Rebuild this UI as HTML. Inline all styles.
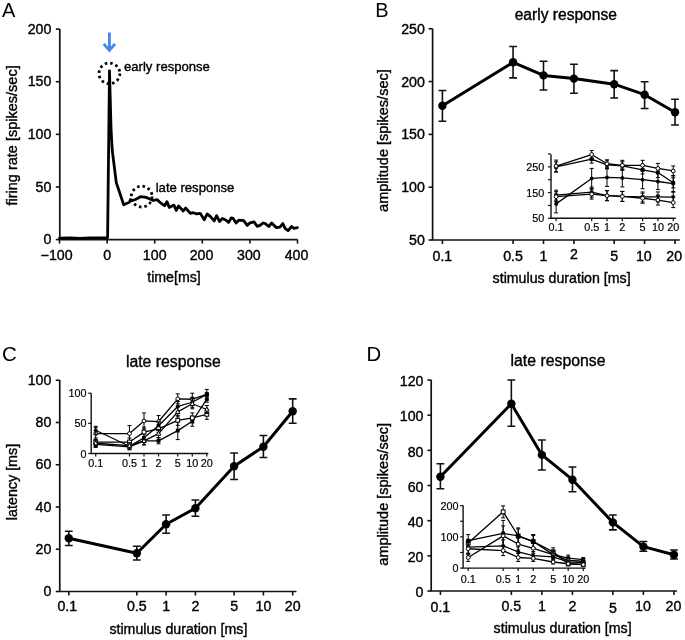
<!DOCTYPE html>
<html><head><meta charset="utf-8"><style>html,body{margin:0;padding:0;background:#fff;width:685px;height:640px;overflow:hidden} text{stroke:#000;stroke-width:0.38px} text.pl{stroke:none} text.sm{stroke-width:0.2px}</style></head>
<body>
<svg width="685" height="640" viewBox="0 0 685 640" style="display:block;will-change:transform">
<g font-family='"Liberation Sans", sans-serif' fill="#000">
<text x="2.00" y="17.00" font-size="20" text-anchor="start" class="pl">A</text>
<path d="M59.80,29.00 V239.60 H297.50" fill="none" stroke="#111" stroke-width="1.7"/>
<line x1="55.80" y1="239.60" x2="59.80" y2="239.60" stroke="#111" stroke-width="1.6"/>
<text x="51.30" y="244.20" font-size="14.2" text-anchor="end" >0</text>
<line x1="55.80" y1="186.97" x2="59.80" y2="186.97" stroke="#111" stroke-width="1.6"/>
<text x="51.30" y="191.57" font-size="14.2" text-anchor="end" >50</text>
<line x1="55.80" y1="134.35" x2="59.80" y2="134.35" stroke="#111" stroke-width="1.6"/>
<text x="51.30" y="138.95" font-size="14.2" text-anchor="end" >100</text>
<line x1="55.80" y1="81.72" x2="59.80" y2="81.72" stroke="#111" stroke-width="1.6"/>
<text x="51.30" y="86.32" font-size="14.2" text-anchor="end" >150</text>
<line x1="55.80" y1="29.10" x2="59.80" y2="29.10" stroke="#111" stroke-width="1.6"/>
<text x="51.30" y="33.70" font-size="14.2" text-anchor="end" >200</text>
<line x1="59.50" y1="239.60" x2="59.50" y2="243.60" stroke="#111" stroke-width="1.6"/>
<line x1="107.10" y1="239.60" x2="107.10" y2="243.60" stroke="#111" stroke-width="1.6"/>
<text x="107.10" y="259.80" font-size="14.2" text-anchor="middle" >0</text>
<line x1="154.70" y1="239.60" x2="154.70" y2="243.60" stroke="#111" stroke-width="1.6"/>
<text x="154.70" y="259.80" font-size="14.2" text-anchor="middle" >100</text>
<line x1="202.30" y1="239.60" x2="202.30" y2="243.60" stroke="#111" stroke-width="1.6"/>
<text x="201.50" y="259.80" font-size="14.2" text-anchor="middle" >200</text>
<line x1="249.90" y1="239.60" x2="249.90" y2="243.60" stroke="#111" stroke-width="1.6"/>
<text x="248.90" y="259.80" font-size="14.2" text-anchor="middle" >300</text>
<line x1="297.50" y1="239.60" x2="297.50" y2="243.60" stroke="#111" stroke-width="1.6"/>
<text x="296.50" y="259.80" font-size="14.2" text-anchor="middle" >400</text>
<text x="56.60" y="259.80" font-size="14.2" text-anchor="middle" >−100</text>
<text x="174.00" y="281.60" font-size="14.2" text-anchor="middle" >time[ms]</text>
<text transform="translate(16.7,135.4) rotate(-90)" font-size="14.5" text-anchor="middle">firing rate [spikes/sec]</text>
<polyline points="59.50,238.20 70.00,238.00 80.00,238.30 90.00,237.80 100.00,237.90 107.60,237.60 109.50,70.80 111.00,128.00 112.20,150.00 116.30,182.60 123.70,204.80 127.00,203.30 129.40,202.30 130.50,199.50 131.90,200.80 136.00,199.30 140.90,196.60 146.00,197.40 150.00,199.00 153.00,200.50 157.00,199.60 160.50,202.80 164.60,205.70 166.90,201.60 169.30,207.40 173.90,205.10 176.30,210.40 178.60,205.90 183.30,211.00 185.60,208.00 190.30,213.30 193.20,212.70 196.70,213.90 200.20,213.30 204.30,219.70 207.20,213.90 210.70,216.80 214.20,220.90 216.60,215.60 219.50,221.50 222.40,218.50 225.30,219.70 228.50,222.40 231.40,217.80 233.20,218.40 236.10,223.00 239.00,220.10 243.70,220.70 247.20,225.40 250.10,222.80 254.20,221.90 257.10,226.30 260.00,225.40 263.00,223.00 265.30,223.60 268.80,226.50 271.70,223.00 276.40,227.70 279.90,227.10 282.80,223.60 285.10,228.30 288.10,230.60 291.60,226.50 293.90,228.30 297.40,227.70" fill="none" stroke="#000" stroke-width="2.8" stroke-linejoin="round" stroke-linecap="round" stroke-linejoin="miter" stroke-miterlimit="3"/>
<circle cx="109.4" cy="73.4" r="10.4" fill="none" stroke="#000" stroke-width="2.8" stroke-dasharray="2.5 3.0"/>
<circle cx="141.7" cy="196.6" r="10.4" fill="none" stroke="#000" stroke-width="2.8" stroke-dasharray="2.5 3.0"/>
<text x="124.00" y="71.00" font-size="13.1" text-anchor="start" >early response</text>
<text x="155.70" y="191.60" font-size="13.1" text-anchor="start" >late response</text>
<path d="M109.4,32.4 V50 M103.8,43.8 L109.4,50.4 L115.0,43.8" fill="none" stroke="#4285ec" stroke-width="2.8" stroke-linecap="butt" stroke-linejoin="miter"/>
<text x="375.30" y="16.50" font-size="20" text-anchor="start" class="pl">B</text>
<path d="M432.60,28.75 V240.00 H679.80" fill="none" stroke="#111" stroke-width="1.7"/>
<line x1="428.60" y1="240.00" x2="432.60" y2="240.00" stroke="#111" stroke-width="1.6"/>
<text x="424.80" y="245.00" font-size="14.2" text-anchor="end" >50</text>
<line x1="428.60" y1="187.19" x2="432.60" y2="187.19" stroke="#111" stroke-width="1.6"/>
<text x="424.80" y="192.19" font-size="14.2" text-anchor="end" >100</text>
<line x1="428.60" y1="134.38" x2="432.60" y2="134.38" stroke="#111" stroke-width="1.6"/>
<text x="424.80" y="139.38" font-size="14.2" text-anchor="end" >150</text>
<line x1="428.60" y1="81.56" x2="432.60" y2="81.56" stroke="#111" stroke-width="1.6"/>
<text x="424.80" y="86.56" font-size="14.2" text-anchor="end" >200</text>
<line x1="428.60" y1="28.75" x2="432.60" y2="28.75" stroke="#111" stroke-width="1.6"/>
<text x="424.80" y="33.75" font-size="14.2" text-anchor="end" >250</text>
<line x1="442.40" y1="240.00" x2="442.40" y2="244.00" stroke="#111" stroke-width="1.6"/>
<text x="442.40" y="260.60" font-size="14.2" text-anchor="middle" >0.1</text>
<line x1="513.07" y1="240.00" x2="513.07" y2="244.00" stroke="#111" stroke-width="1.6"/>
<text x="513.07" y="260.60" font-size="14.2" text-anchor="middle" >0.5</text>
<line x1="543.50" y1="240.00" x2="543.50" y2="244.00" stroke="#111" stroke-width="1.6"/>
<text x="543.50" y="260.60" font-size="14.2" text-anchor="middle" >1</text>
<line x1="573.93" y1="240.00" x2="573.93" y2="244.00" stroke="#111" stroke-width="1.6"/>
<text x="573.93" y="259.40" font-size="14.2" text-anchor="middle" >2</text>
<line x1="614.17" y1="240.00" x2="614.17" y2="244.00" stroke="#111" stroke-width="1.6"/>
<text x="614.17" y="260.60" font-size="14.2" text-anchor="middle" >5</text>
<line x1="644.60" y1="240.00" x2="644.60" y2="244.00" stroke="#111" stroke-width="1.6"/>
<text x="643.80" y="260.60" font-size="14.2" text-anchor="middle" >10</text>
<line x1="675.03" y1="240.00" x2="675.03" y2="244.00" stroke="#111" stroke-width="1.6"/>
<text x="674.23" y="260.60" font-size="14.2" text-anchor="middle" >20</text>
<text x="561.60" y="282.60" font-size="14.2" text-anchor="middle" >stimulus duration [ms]</text>
<text x="565.80" y="19.60" font-size="15.6" text-anchor="middle" >early response</text>
<text transform="translate(387.9,140.6) rotate(-90)" font-size="14.5" text-anchor="middle">amplitude [spikes/sec]</text>
<path d="M442.40,90.50 V121.25 M438.50,90.50 H446.30 M438.50,121.25 H446.30" stroke="#111" stroke-width="1.6" fill="none"/>
<path d="M513.07,46.50 V77.90 M509.17,46.50 H516.97 M509.17,77.90 H516.97" stroke="#111" stroke-width="1.6" fill="none"/>
<path d="M543.50,61.30 V90.00 M539.60,61.30 H547.40 M539.60,90.00 H547.40" stroke="#111" stroke-width="1.6" fill="none"/>
<path d="M573.93,64.30 V93.20 M570.03,64.30 H577.83 M570.03,93.20 H577.83" stroke="#111" stroke-width="1.6" fill="none"/>
<path d="M614.17,70.60 V98.00 M610.27,70.60 H618.07 M610.27,98.00 H618.07" stroke="#111" stroke-width="1.6" fill="none"/>
<path d="M644.60,81.70 V108.50 M640.70,81.70 H648.50 M640.70,108.50 H648.50" stroke="#111" stroke-width="1.6" fill="none"/>
<path d="M675.03,99.30 V125.00 M671.13,99.30 H678.93 M671.13,125.00 H678.93" stroke="#111" stroke-width="1.6" fill="none"/>
<polyline points="442.40,105.75 513.07,62.30 543.50,75.40 573.93,78.60 614.17,84.20 644.60,94.70 675.03,112.20" fill="none" stroke="#000" stroke-width="3.0" stroke-linejoin="round" stroke-linecap="round" stroke-linejoin="miter"/>
<circle cx="442.40" cy="105.75" r="4.2" fill="#000"/>
<circle cx="513.07" cy="62.30" r="4.2" fill="#000"/>
<circle cx="543.50" cy="75.40" r="4.2" fill="#000"/>
<circle cx="573.93" cy="78.60" r="4.2" fill="#000"/>
<circle cx="614.17" cy="84.20" r="4.2" fill="#000"/>
<circle cx="644.60" cy="94.70" r="4.2" fill="#000"/>
<circle cx="675.03" cy="112.20" r="4.2" fill="#000"/>
<text x="2.00" y="360.60" font-size="20.5" text-anchor="start" class="pl">C</text>
<path d="M59.75,380.00 V591.50 H296.50" fill="none" stroke="#111" stroke-width="1.7"/>
<line x1="55.75" y1="591.50" x2="59.75" y2="591.50" stroke="#111" stroke-width="1.6"/>
<text x="51.30" y="596.10" font-size="14.2" text-anchor="end" >0</text>
<line x1="55.75" y1="549.25" x2="59.75" y2="549.25" stroke="#111" stroke-width="1.6"/>
<text x="51.30" y="553.85" font-size="14.2" text-anchor="end" >20</text>
<line x1="55.75" y1="507.00" x2="59.75" y2="507.00" stroke="#111" stroke-width="1.6"/>
<text x="51.30" y="511.60" font-size="14.2" text-anchor="end" >40</text>
<line x1="55.75" y1="464.75" x2="59.75" y2="464.75" stroke="#111" stroke-width="1.6"/>
<text x="51.30" y="469.35" font-size="14.2" text-anchor="end" >60</text>
<line x1="55.75" y1="422.50" x2="59.75" y2="422.50" stroke="#111" stroke-width="1.6"/>
<text x="51.30" y="427.10" font-size="14.2" text-anchor="end" >80</text>
<line x1="55.75" y1="380.25" x2="59.75" y2="380.25" stroke="#111" stroke-width="1.6"/>
<text x="51.30" y="384.85" font-size="14.2" text-anchor="end" >100</text>
<line x1="68.80" y1="591.50" x2="68.80" y2="595.50" stroke="#111" stroke-width="1.6"/>
<text x="67.30" y="611.40" font-size="14.2" text-anchor="middle" >0.1</text>
<line x1="136.81" y1="591.50" x2="136.81" y2="595.50" stroke="#111" stroke-width="1.6"/>
<text x="136.81" y="611.40" font-size="14.2" text-anchor="middle" >0.5</text>
<line x1="166.10" y1="591.50" x2="166.10" y2="595.50" stroke="#111" stroke-width="1.6"/>
<text x="166.10" y="611.40" font-size="14.2" text-anchor="middle" >1</text>
<line x1="195.39" y1="591.50" x2="195.39" y2="595.50" stroke="#111" stroke-width="1.6"/>
<text x="195.39" y="611.40" font-size="14.2" text-anchor="middle" >2</text>
<line x1="234.11" y1="591.50" x2="234.11" y2="595.50" stroke="#111" stroke-width="1.6"/>
<text x="234.11" y="611.40" font-size="14.2" text-anchor="middle" >5</text>
<line x1="263.40" y1="591.50" x2="263.40" y2="595.50" stroke="#111" stroke-width="1.6"/>
<text x="263.40" y="611.40" font-size="14.2" text-anchor="middle" >10</text>
<line x1="292.69" y1="591.50" x2="292.69" y2="595.50" stroke="#111" stroke-width="1.6"/>
<text x="292.69" y="611.40" font-size="14.2" text-anchor="middle" >20</text>
<text x="178.40" y="634.20" font-size="14.2" text-anchor="middle" >stimulus duration [ms]</text>
<text x="173.30" y="366.70" font-size="15.8" text-anchor="middle" >late response</text>
<text transform="translate(16.9,482) rotate(-90)" font-size="14.3" text-anchor="middle">latency [ms]</text>
<path d="M68.80,531.25 V545.50 M64.90,531.25 H72.70 M64.90,545.50 H72.70" stroke="#111" stroke-width="1.6" fill="none"/>
<path d="M136.81,546.25 V560.00 M132.91,546.25 H140.71 M132.91,560.00 H140.71" stroke="#111" stroke-width="1.6" fill="none"/>
<path d="M166.10,515.00 V533.25 M162.20,515.00 H170.00 M162.20,533.25 H170.00" stroke="#111" stroke-width="1.6" fill="none"/>
<path d="M195.39,500.00 V516.25 M191.49,500.00 H199.29 M191.49,516.25 H199.29" stroke="#111" stroke-width="1.6" fill="none"/>
<path d="M234.11,453.00 V479.50 M230.21,453.00 H238.01 M230.21,479.50 H238.01" stroke="#111" stroke-width="1.6" fill="none"/>
<path d="M263.40,435.50 V457.50 M259.50,435.50 H267.30 M259.50,457.50 H267.30" stroke="#111" stroke-width="1.6" fill="none"/>
<path d="M292.69,398.90 V423.25 M288.79,398.90 H296.59 M288.79,423.25 H296.59" stroke="#111" stroke-width="1.6" fill="none"/>
<polyline points="68.80,538.25 136.81,553.25 166.10,524.25 195.39,508.25 234.11,466.25 263.40,446.75 292.69,411.25" fill="none" stroke="#000" stroke-width="3.0" stroke-linejoin="round" stroke-linecap="round" stroke-linejoin="miter"/>
<circle cx="68.80" cy="538.25" r="4.2" fill="#000"/>
<circle cx="136.81" cy="553.25" r="4.2" fill="#000"/>
<circle cx="166.10" cy="524.25" r="4.2" fill="#000"/>
<circle cx="195.39" cy="508.25" r="4.2" fill="#000"/>
<circle cx="234.11" cy="466.25" r="4.2" fill="#000"/>
<circle cx="263.40" cy="446.75" r="4.2" fill="#000"/>
<circle cx="292.69" cy="411.25" r="4.2" fill="#000"/>
<text x="366.50" y="360.60" font-size="20.3" text-anchor="start" class="pl">D</text>
<path d="M431.20,380.00 V591.00 H677.00" fill="none" stroke="#111" stroke-width="1.7"/>
<line x1="427.40" y1="591.00" x2="431.20" y2="591.00" stroke="#111" stroke-width="1.6"/>
<text x="423.50" y="597.20" font-size="14.2" text-anchor="end" >0</text>
<line x1="427.40" y1="555.83" x2="431.20" y2="555.83" stroke="#111" stroke-width="1.6"/>
<text x="423.50" y="562.03" font-size="14.2" text-anchor="end" >20</text>
<line x1="427.40" y1="520.67" x2="431.20" y2="520.67" stroke="#111" stroke-width="1.6"/>
<text x="423.50" y="526.87" font-size="14.2" text-anchor="end" >40</text>
<line x1="427.40" y1="485.50" x2="431.20" y2="485.50" stroke="#111" stroke-width="1.6"/>
<text x="423.50" y="491.70" font-size="14.2" text-anchor="end" >60</text>
<line x1="427.40" y1="450.34" x2="431.20" y2="450.34" stroke="#111" stroke-width="1.6"/>
<text x="423.50" y="456.54" font-size="14.2" text-anchor="end" >80</text>
<line x1="427.40" y1="415.17" x2="431.20" y2="415.17" stroke="#111" stroke-width="1.6"/>
<text x="423.50" y="421.37" font-size="14.2" text-anchor="end" >100</text>
<line x1="427.40" y1="380.00" x2="431.20" y2="380.00" stroke="#111" stroke-width="1.6"/>
<text x="423.50" y="386.20" font-size="14.2" text-anchor="end" >120</text>
<line x1="440.40" y1="591.00" x2="440.40" y2="595.00" stroke="#111" stroke-width="1.6"/>
<text x="440.40" y="611.90" font-size="14.2" text-anchor="middle" >0.1</text>
<line x1="511.35" y1="591.00" x2="511.35" y2="595.00" stroke="#111" stroke-width="1.6"/>
<text x="511.35" y="610.90" font-size="14.2" text-anchor="middle" >0.5</text>
<line x1="541.90" y1="591.00" x2="541.90" y2="595.00" stroke="#111" stroke-width="1.6"/>
<text x="541.90" y="610.90" font-size="14.2" text-anchor="middle" >1</text>
<line x1="572.45" y1="591.00" x2="572.45" y2="595.00" stroke="#111" stroke-width="1.6"/>
<text x="572.45" y="610.90" font-size="14.2" text-anchor="middle" >2</text>
<line x1="612.85" y1="591.00" x2="612.85" y2="595.00" stroke="#111" stroke-width="1.6"/>
<text x="612.85" y="612.90" font-size="14.2" text-anchor="middle" >5</text>
<line x1="643.40" y1="591.00" x2="643.40" y2="595.00" stroke="#111" stroke-width="1.6"/>
<text x="642.90" y="610.90" font-size="14.2" text-anchor="middle" >10</text>
<line x1="673.95" y1="591.00" x2="673.95" y2="595.00" stroke="#111" stroke-width="1.6"/>
<text x="673.45" y="610.90" font-size="14.2" text-anchor="middle" >20</text>
<text x="562.60" y="633.00" font-size="14.2" text-anchor="middle" >stimulus duration [ms]</text>
<text x="558.00" y="366.40" font-size="15.8" text-anchor="middle" >late response</text>
<text transform="translate(388.2,494.3) rotate(-90)" font-size="14.5" text-anchor="middle">amplitude [spikes/sec]</text>
<path d="M440.40,463.75 V488.75 M436.50,463.75 H444.30 M436.50,488.75 H444.30" stroke="#111" stroke-width="1.6" fill="none"/>
<path d="M511.35,380.00 V426.25 M507.45,380.00 H515.25 M507.45,426.25 H515.25" stroke="#111" stroke-width="1.6" fill="none"/>
<path d="M541.90,440.00 V470.00 M538.00,440.00 H545.80 M538.00,470.00 H545.80" stroke="#111" stroke-width="1.6" fill="none"/>
<path d="M572.45,467.00 V491.80 M568.55,467.00 H576.35 M568.55,491.80 H576.35" stroke="#111" stroke-width="1.6" fill="none"/>
<path d="M612.85,515.00 V529.90 M608.95,515.00 H616.75 M608.95,529.90 H616.75" stroke="#111" stroke-width="1.6" fill="none"/>
<path d="M643.40,541.50 V551.30 M639.50,541.50 H647.30 M639.50,551.30 H647.30" stroke="#111" stroke-width="1.6" fill="none"/>
<path d="M673.95,550.00 V559.00 M670.05,550.00 H677.85 M670.05,559.00 H677.85" stroke="#111" stroke-width="1.6" fill="none"/>
<polyline points="440.40,476.75 511.35,403.75 541.90,454.90 572.45,479.70 612.85,522.40 643.40,546.60 673.95,554.70" fill="none" stroke="#000" stroke-width="3.0" stroke-linejoin="round" stroke-linecap="round" stroke-linejoin="miter"/>
<circle cx="440.40" cy="476.75" r="4.2" fill="#000"/>
<circle cx="511.35" cy="403.75" r="4.2" fill="#000"/>
<circle cx="541.90" cy="454.90" r="4.2" fill="#000"/>
<circle cx="572.45" cy="479.70" r="4.2" fill="#000"/>
<circle cx="612.85" cy="522.40" r="4.2" fill="#000"/>
<circle cx="643.40" cy="546.60" r="4.2" fill="#000"/>
<circle cx="673.95" cy="554.70" r="4.2" fill="#000"/>
<path d="M551.00,154.40 V218.30 H675.80" fill="none" stroke="#111" stroke-width="1.4"/>
<line x1="548.00" y1="218.30" x2="551.00" y2="218.30" stroke="#111" stroke-width="1.2"/>
<text x="544.30" y="222.30" font-size="10.8" text-anchor="end" class="sm">50</text>
<line x1="548.00" y1="205.44" x2="551.00" y2="205.44" stroke="#111" stroke-width="1.2"/>
<line x1="548.00" y1="192.58" x2="551.00" y2="192.58" stroke="#111" stroke-width="1.2"/>
<text x="544.30" y="196.58" font-size="10.8" text-anchor="end" class="sm">150</text>
<line x1="548.00" y1="179.72" x2="551.00" y2="179.72" stroke="#111" stroke-width="1.2"/>
<line x1="548.00" y1="166.86" x2="551.00" y2="166.86" stroke="#111" stroke-width="1.2"/>
<text x="544.30" y="170.86" font-size="10.8" text-anchor="end" class="sm">250</text>
<line x1="548.00" y1="154.00" x2="551.00" y2="154.00" stroke="#111" stroke-width="1.2"/>
<line x1="556.10" y1="218.30" x2="556.10" y2="221.30" stroke="#111" stroke-width="1.2"/>
<text x="556.10" y="231.20" font-size="10.8" text-anchor="middle" class="sm">0.1</text>
<line x1="591.68" y1="218.30" x2="591.68" y2="221.30" stroke="#111" stroke-width="1.2"/>
<text x="591.68" y="231.20" font-size="10.8" text-anchor="middle" class="sm">0.5</text>
<line x1="607.00" y1="218.30" x2="607.00" y2="221.30" stroke="#111" stroke-width="1.2"/>
<text x="607.00" y="231.20" font-size="10.8" text-anchor="middle" class="sm">1</text>
<line x1="622.32" y1="218.30" x2="622.32" y2="221.30" stroke="#111" stroke-width="1.2"/>
<text x="622.32" y="231.20" font-size="10.8" text-anchor="middle" class="sm">2</text>
<line x1="642.58" y1="218.30" x2="642.58" y2="221.30" stroke="#111" stroke-width="1.2"/>
<text x="642.58" y="231.20" font-size="10.8" text-anchor="middle" class="sm">5</text>
<line x1="657.90" y1="218.30" x2="657.90" y2="221.30" stroke="#111" stroke-width="1.2"/>
<text x="657.90" y="231.20" font-size="10.8" text-anchor="middle" class="sm">10</text>
<line x1="673.22" y1="218.30" x2="673.22" y2="221.30" stroke="#111" stroke-width="1.2"/>
<text x="673.22" y="231.20" font-size="10.8" text-anchor="middle" class="sm">20</text>
<path d="M556.10,161.86 V171.86 M554.10,161.86 H558.10 M554.10,171.86 H558.10" stroke="#000" stroke-width="1" fill="none"/>
<path d="M591.68,155.14 V163.14 M589.68,155.14 H593.68 M589.68,163.14 H593.68" stroke="#000" stroke-width="1" fill="none"/>
<path d="M607.00,160.80 V168.80 M605.00,160.80 H609.00 M605.00,168.80 H609.00" stroke="#000" stroke-width="1" fill="none"/>
<path d="M622.32,161.83 V169.83 M620.32,161.83 H624.32 M620.32,169.83 H624.32" stroke="#000" stroke-width="1" fill="none"/>
<path d="M642.58,165.95 V173.95 M640.58,165.95 H644.58 M640.58,173.95 H644.58" stroke="#000" stroke-width="1" fill="none"/>
<path d="M657.90,167.52 V177.52 M655.90,167.52 H659.90 M655.90,177.52 H659.90" stroke="#000" stroke-width="1" fill="none"/>
<path d="M673.22,177.81 V187.81 M671.22,177.81 H675.22 M671.22,187.81 H675.22" stroke="#000" stroke-width="1" fill="none"/>
<polyline points="556.10,166.86 591.68,159.14 607.00,164.80 622.32,165.83 642.58,169.95 657.90,172.52 673.22,182.81" fill="none" stroke="#000" stroke-width="1.3" stroke-linejoin="round" stroke-linecap="round" stroke-linejoin="miter"/>
<rect x="554.20" y="164.96" width="3.80" height="3.80" fill="#000"/>
<rect x="589.78" y="157.24" width="3.80" height="3.80" fill="#000"/>
<rect x="605.10" y="162.90" width="3.80" height="3.80" fill="#000"/>
<rect x="620.42" y="163.93" width="3.80" height="3.80" fill="#000"/>
<rect x="640.68" y="168.05" width="3.80" height="3.80" fill="#000"/>
<rect x="656.00" y="170.62" width="3.80" height="3.80" fill="#000"/>
<rect x="671.32" y="180.91" width="3.80" height="3.80" fill="#000"/>
<path d="M556.10,160.09 V172.09 M554.10,160.09 H558.10 M554.10,172.09 H558.10" stroke="#000" stroke-width="1" fill="none"/>
<path d="M591.68,150.51 V158.51 M589.68,150.51 H593.68 M589.68,158.51 H593.68" stroke="#000" stroke-width="1" fill="none"/>
<path d="M607.00,159.77 V167.77 M605.00,159.77 H609.00 M605.00,167.77 H609.00" stroke="#000" stroke-width="1" fill="none"/>
<path d="M622.32,160.32 V170.32 M620.32,160.32 H624.32 M620.32,170.32 H624.32" stroke="#000" stroke-width="1" fill="none"/>
<path d="M642.58,160.32 V170.32 M640.58,160.32 H644.58 M640.58,170.32 H644.58" stroke="#000" stroke-width="1" fill="none"/>
<path d="M657.90,163.40 V173.40 M655.90,163.40 H659.90 M655.90,173.40 H659.90" stroke="#000" stroke-width="1" fill="none"/>
<path d="M673.22,165.98 V175.98 M671.22,165.98 H675.22 M671.22,175.98 H675.22" stroke="#000" stroke-width="1" fill="none"/>
<polyline points="556.10,166.09 591.68,154.51 607.00,163.77 622.32,165.32 642.58,165.32 657.90,168.40 673.22,170.98" fill="none" stroke="#000" stroke-width="1.3" stroke-linejoin="round" stroke-linecap="round" stroke-linejoin="miter"/>
<circle cx="556.10" cy="166.09" r="1.90" fill="#fff" stroke="#000" stroke-width="1"/>
<circle cx="591.68" cy="154.51" r="1.90" fill="#fff" stroke="#000" stroke-width="1"/>
<circle cx="607.00" cy="163.77" r="1.90" fill="#fff" stroke="#000" stroke-width="1"/>
<circle cx="622.32" cy="165.32" r="1.90" fill="#fff" stroke="#000" stroke-width="1"/>
<circle cx="642.58" cy="165.32" r="1.90" fill="#fff" stroke="#000" stroke-width="1"/>
<circle cx="657.90" cy="168.40" r="1.90" fill="#fff" stroke="#000" stroke-width="1"/>
<circle cx="673.22" cy="170.98" r="1.90" fill="#fff" stroke="#000" stroke-width="1"/>
<path d="M556.10,194.90 V212.90 M554.10,194.90 H558.10 M554.10,212.90 H558.10" stroke="#000" stroke-width="1" fill="none"/>
<path d="M591.68,168.43 V188.43 M589.68,168.43 H593.68 M589.68,188.43 H593.68" stroke="#000" stroke-width="1" fill="none"/>
<path d="M607.00,168.41 V186.41 M605.00,168.41 H609.00 M605.00,186.41 H609.00" stroke="#000" stroke-width="1" fill="none"/>
<path d="M622.32,168.92 V186.92 M620.32,168.92 H624.32 M620.32,186.92 H624.32" stroke="#000" stroke-width="1" fill="none"/>
<path d="M642.58,170.72 V188.72 M640.58,170.72 H644.58 M640.58,188.72 H644.58" stroke="#000" stroke-width="1" fill="none"/>
<path d="M657.90,173.52 V189.52 M655.90,173.52 H659.90 M655.90,189.52 H659.90" stroke="#000" stroke-width="1" fill="none"/>
<path d="M673.22,175.58 V191.58 M671.22,175.58 H675.22 M671.22,191.58 H675.22" stroke="#000" stroke-width="1" fill="none"/>
<polyline points="556.10,203.90 591.68,178.43 607.00,177.41 622.32,177.92 642.58,179.72 657.90,181.52 673.22,183.58" fill="none" stroke="#000" stroke-width="1.3" stroke-linejoin="round" stroke-linecap="round" stroke-linejoin="miter"/>
<circle cx="556.10" cy="203.90" r="1.90" fill="#000"/>
<circle cx="591.68" cy="178.43" r="1.90" fill="#000"/>
<circle cx="607.00" cy="177.41" r="1.90" fill="#000"/>
<circle cx="622.32" cy="177.92" r="1.90" fill="#000"/>
<circle cx="642.58" cy="179.72" r="1.90" fill="#000"/>
<circle cx="657.90" cy="181.52" r="1.90" fill="#000"/>
<circle cx="673.22" cy="183.58" r="1.90" fill="#000"/>
<path d="M556.10,190.15 V200.15 M554.10,190.15 H558.10 M554.10,200.15 H558.10" stroke="#000" stroke-width="1" fill="none"/>
<path d="M591.68,187.07 V197.07 M589.68,187.07 H593.68 M589.68,197.07 H593.68" stroke="#000" stroke-width="1" fill="none"/>
<path d="M607.00,190.67 V200.67 M605.00,190.67 H609.00 M605.00,200.67 H609.00" stroke="#000" stroke-width="1" fill="none"/>
<path d="M622.32,191.44 V201.44 M620.32,191.44 H624.32 M620.32,201.44 H624.32" stroke="#000" stroke-width="1" fill="none"/>
<path d="M642.58,191.95 V201.95 M640.58,191.95 H644.58 M640.58,201.95 H644.58" stroke="#000" stroke-width="1" fill="none"/>
<path d="M657.90,191.95 V201.95 M655.90,191.95 H659.90 M655.90,201.95 H659.90" stroke="#000" stroke-width="1" fill="none"/>
<path d="M673.22,192.21 V202.21 M671.22,192.21 H675.22 M671.22,202.21 H675.22" stroke="#000" stroke-width="1" fill="none"/>
<polyline points="556.10,195.15 591.68,192.07 607.00,195.67 622.32,196.44 642.58,196.95 657.90,196.95 673.22,197.21" fill="none" stroke="#000" stroke-width="1.3" stroke-linejoin="round" stroke-linecap="round" stroke-linejoin="miter"/>
<path d="M556.10,197.55 L558.30,193.55 L553.90,193.55 Z" fill="#000"/>
<path d="M591.68,194.47 L593.88,190.47 L589.48,190.47 Z" fill="#000"/>
<path d="M607.00,198.07 L609.20,194.07 L604.80,194.07 Z" fill="#000"/>
<path d="M622.32,198.84 L624.52,194.84 L620.12,194.84 Z" fill="#000"/>
<path d="M642.58,199.35 L644.78,195.35 L640.38,195.35 Z" fill="#000"/>
<path d="M657.90,199.35 L660.10,195.35 L655.70,195.35 Z" fill="#000"/>
<path d="M673.22,199.61 L675.42,195.61 L671.02,195.61 Z" fill="#000"/>
<path d="M556.10,191.70 V201.70 M554.10,191.70 H558.10 M554.10,201.70 H558.10" stroke="#000" stroke-width="1" fill="none"/>
<path d="M591.68,189.12 V199.12 M589.68,189.12 H593.68 M589.68,199.12 H593.68" stroke="#000" stroke-width="1" fill="none"/>
<path d="M607.00,190.67 V200.67 M605.00,190.67 H609.00 M605.00,200.67 H609.00" stroke="#000" stroke-width="1" fill="none"/>
<path d="M622.32,191.44 V201.44 M620.32,191.44 H624.32 M620.32,201.44 H624.32" stroke="#000" stroke-width="1" fill="none"/>
<path d="M642.58,193.24 V203.24 M640.58,193.24 H644.58 M640.58,203.24 H644.58" stroke="#000" stroke-width="1" fill="none"/>
<path d="M657.90,195.04 V205.04 M655.90,195.04 H659.90 M655.90,205.04 H659.90" stroke="#000" stroke-width="1" fill="none"/>
<path d="M673.22,197.61 V207.61 M671.22,197.61 H675.22 M671.22,207.61 H675.22" stroke="#000" stroke-width="1" fill="none"/>
<polyline points="556.10,196.70 591.68,194.12 607.00,195.67 622.32,196.44 642.58,198.24 657.90,200.04 673.22,202.61" fill="none" stroke="#000" stroke-width="1.3" stroke-linejoin="round" stroke-linecap="round" stroke-linejoin="miter"/>
<circle cx="556.10" cy="196.70" r="1.90" fill="#fff" stroke="#000" stroke-width="1"/>
<circle cx="591.68" cy="194.12" r="1.90" fill="#fff" stroke="#000" stroke-width="1"/>
<circle cx="607.00" cy="195.67" r="1.90" fill="#fff" stroke="#000" stroke-width="1"/>
<circle cx="622.32" cy="196.44" r="1.90" fill="#fff" stroke="#000" stroke-width="1"/>
<circle cx="642.58" cy="198.24" r="1.90" fill="#fff" stroke="#000" stroke-width="1"/>
<circle cx="657.90" cy="200.04" r="1.90" fill="#fff" stroke="#000" stroke-width="1"/>
<circle cx="673.22" cy="202.61" r="1.90" fill="#fff" stroke="#000" stroke-width="1"/>
<path d="M91.20,393.20 V453.50 H208.30" fill="none" stroke="#111" stroke-width="1.4"/>
<line x1="88.20" y1="453.50" x2="91.20" y2="453.50" stroke="#111" stroke-width="1.2"/>
<text x="86.40" y="457.50" font-size="10.8" text-anchor="end" class="sm">0</text>
<line x1="88.20" y1="423.35" x2="91.20" y2="423.35" stroke="#111" stroke-width="1.2"/>
<text x="86.40" y="427.35" font-size="10.8" text-anchor="end" class="sm">50</text>
<line x1="88.20" y1="393.20" x2="91.20" y2="393.20" stroke="#111" stroke-width="1.2"/>
<text x="86.40" y="397.20" font-size="10.8" text-anchor="end" class="sm">100</text>
<line x1="95.70" y1="453.50" x2="95.70" y2="456.50" stroke="#111" stroke-width="1.2"/>
<text x="95.70" y="466.90" font-size="10.8" text-anchor="middle" class="sm">0.1</text>
<line x1="129.46" y1="453.50" x2="129.46" y2="456.50" stroke="#111" stroke-width="1.2"/>
<text x="129.46" y="466.90" font-size="10.8" text-anchor="middle" class="sm">0.5</text>
<line x1="144.00" y1="453.50" x2="144.00" y2="456.50" stroke="#111" stroke-width="1.2"/>
<text x="144.00" y="466.90" font-size="10.8" text-anchor="middle" class="sm">1</text>
<line x1="158.54" y1="453.50" x2="158.54" y2="456.50" stroke="#111" stroke-width="1.2"/>
<text x="158.54" y="466.90" font-size="10.8" text-anchor="middle" class="sm">2</text>
<line x1="177.76" y1="453.50" x2="177.76" y2="456.50" stroke="#111" stroke-width="1.2"/>
<text x="177.76" y="466.90" font-size="10.8" text-anchor="middle" class="sm">5</text>
<line x1="192.30" y1="453.50" x2="192.30" y2="456.50" stroke="#111" stroke-width="1.2"/>
<text x="192.30" y="466.90" font-size="10.8" text-anchor="middle" class="sm">10</text>
<line x1="206.84" y1="453.50" x2="206.84" y2="456.50" stroke="#111" stroke-width="1.2"/>
<text x="206.84" y="466.90" font-size="10.8" text-anchor="middle" class="sm">20</text>
<path d="M95.70,427.60 V439.60 M93.70,427.60 H97.70 M93.70,439.60 H97.70" stroke="#000" stroke-width="1" fill="none"/>
<path d="M129.46,425.60 V441.60 M127.46,425.60 H131.46 M127.46,441.60 H131.46" stroke="#000" stroke-width="1" fill="none"/>
<path d="M144.00,412.94 V428.94 M142.00,412.94 H146.00 M142.00,428.94 H146.00" stroke="#000" stroke-width="1" fill="none"/>
<path d="M158.54,415.54 V427.54 M156.54,415.54 H160.54 M156.54,427.54 H160.54" stroke="#000" stroke-width="1" fill="none"/>
<path d="M177.76,393.87 V403.87 M175.76,393.87 H179.76 M175.76,403.87 H179.76" stroke="#000" stroke-width="1" fill="none"/>
<path d="M192.30,393.23 V405.23 M190.30,393.23 H194.30 M190.30,405.23 H194.30" stroke="#000" stroke-width="1" fill="none"/>
<path d="M206.84,389.41 V399.41 M204.84,389.41 H208.84 M204.84,399.41 H208.84" stroke="#000" stroke-width="1" fill="none"/>
<polyline points="95.70,433.60 129.46,433.60 144.00,420.94 158.54,421.54 177.76,398.87 192.30,399.23 206.84,394.41" fill="none" stroke="#000" stroke-width="1.3" stroke-linejoin="round" stroke-linecap="round" stroke-linejoin="miter"/>
<circle cx="95.70" cy="433.60" r="1.90" fill="#fff" stroke="#000" stroke-width="1"/>
<circle cx="129.46" cy="433.60" r="1.90" fill="#fff" stroke="#000" stroke-width="1"/>
<circle cx="144.00" cy="420.94" r="1.90" fill="#fff" stroke="#000" stroke-width="1"/>
<circle cx="158.54" cy="421.54" r="1.90" fill="#fff" stroke="#000" stroke-width="1"/>
<circle cx="177.76" cy="398.87" r="1.90" fill="#fff" stroke="#000" stroke-width="1"/>
<circle cx="192.30" cy="399.23" r="1.90" fill="#fff" stroke="#000" stroke-width="1"/>
<circle cx="206.84" cy="394.41" r="1.90" fill="#fff" stroke="#000" stroke-width="1"/>
<path d="M95.70,426.28 V434.28 M93.70,426.28 H97.70 M93.70,434.28 H97.70" stroke="#000" stroke-width="1" fill="none"/>
<path d="M129.46,443.26 V449.26 M127.46,443.26 H131.46 M127.46,449.26 H131.46" stroke="#000" stroke-width="1" fill="none"/>
<path d="M144.00,433.82 V441.82 M142.00,433.82 H146.00 M142.00,441.82 H146.00" stroke="#000" stroke-width="1" fill="none"/>
<path d="M158.54,421.76 V429.76 M156.54,421.76 H160.54 M156.54,429.76 H160.54" stroke="#000" stroke-width="1" fill="none"/>
<path d="M177.76,401.47 V411.47 M175.76,401.47 H179.76 M175.76,411.47 H179.76" stroke="#000" stroke-width="1" fill="none"/>
<path d="M192.30,397.25 V407.25 M190.30,397.25 H194.30 M190.30,407.25 H194.30" stroke="#000" stroke-width="1" fill="none"/>
<path d="M206.84,392.41 V396.41 M204.84,392.41 H208.84 M204.84,396.41 H208.84" stroke="#000" stroke-width="1" fill="none"/>
<polyline points="95.70,430.28 129.46,446.26 144.00,437.82 158.54,425.76 177.76,406.47 192.30,402.25 206.84,394.41" fill="none" stroke="#000" stroke-width="1.3" stroke-linejoin="round" stroke-linecap="round" stroke-linejoin="miter"/>
<circle cx="95.70" cy="430.28" r="1.90" fill="#000"/>
<circle cx="129.46" cy="446.26" r="1.90" fill="#000"/>
<circle cx="144.00" cy="437.82" r="1.90" fill="#000"/>
<circle cx="158.54" cy="425.76" r="1.90" fill="#000"/>
<circle cx="177.76" cy="406.47" r="1.90" fill="#000"/>
<circle cx="192.30" cy="402.25" r="1.90" fill="#000"/>
<circle cx="206.84" cy="394.41" r="1.90" fill="#000"/>
<path d="M95.70,441.45 V447.45 M93.70,441.45 H97.70 M93.70,447.45 H97.70" stroke="#000" stroke-width="1" fill="none"/>
<path d="M129.46,443.87 V449.87 M127.46,443.87 H131.46 M127.46,449.87 H131.46" stroke="#000" stroke-width="1" fill="none"/>
<path d="M144.00,436.84 V444.84 M142.00,436.84 H146.00 M142.00,444.84 H146.00" stroke="#000" stroke-width="1" fill="none"/>
<path d="M158.54,437.84 V443.84 M156.54,437.84 H160.54 M156.54,443.84 H160.54" stroke="#000" stroke-width="1" fill="none"/>
<path d="M177.76,421.59 V439.59 M175.76,421.59 H179.76 M175.76,439.59 H179.76" stroke="#000" stroke-width="1" fill="none"/>
<path d="M192.30,416.24 V426.24 M190.30,416.24 H194.30 M190.30,426.24 H194.30" stroke="#000" stroke-width="1" fill="none"/>
<path d="M206.84,396.23 V402.23 M204.84,396.23 H208.84 M204.84,402.23 H208.84" stroke="#000" stroke-width="1" fill="none"/>
<polyline points="95.70,444.45 129.46,446.87 144.00,440.84 158.54,440.84 177.76,430.59 192.30,421.24 206.84,399.23" fill="none" stroke="#000" stroke-width="1.3" stroke-linejoin="round" stroke-linecap="round" stroke-linejoin="miter"/>
<rect x="93.80" y="442.56" width="3.80" height="3.80" fill="#000"/>
<rect x="127.56" y="444.97" width="3.80" height="3.80" fill="#000"/>
<rect x="142.10" y="438.94" width="3.80" height="3.80" fill="#000"/>
<rect x="156.64" y="438.94" width="3.80" height="3.80" fill="#000"/>
<rect x="175.86" y="428.69" width="3.80" height="3.80" fill="#000"/>
<rect x="190.40" y="419.34" width="3.80" height="3.80" fill="#000"/>
<rect x="204.94" y="397.33" width="3.80" height="3.80" fill="#000"/>
<path d="M95.70,438.04 V446.04 M93.70,438.04 H97.70 M93.70,446.04 H97.70" stroke="#000" stroke-width="1" fill="none"/>
<path d="M129.46,438.04 V446.04 M127.46,438.04 H131.46 M127.46,446.04 H131.46" stroke="#000" stroke-width="1" fill="none"/>
<path d="M144.00,427.09 V437.09 M142.00,427.09 H146.00 M142.00,437.09 H146.00" stroke="#000" stroke-width="1" fill="none"/>
<path d="M158.54,424.78 V432.78 M156.54,424.78 H160.54 M156.54,432.78 H160.54" stroke="#000" stroke-width="1" fill="none"/>
<path d="M177.76,415.33 V425.33 M175.76,415.33 H179.76 M175.76,425.33 H179.76" stroke="#000" stroke-width="1" fill="none"/>
<path d="M192.30,412.92 V422.92 M190.30,412.92 H194.30 M190.30,422.92 H194.30" stroke="#000" stroke-width="1" fill="none"/>
<path d="M206.84,409.31 V419.31 M204.84,409.31 H208.84 M204.84,419.31 H208.84" stroke="#000" stroke-width="1" fill="none"/>
<polyline points="95.70,442.04 129.46,442.04 144.00,432.09 158.54,428.78 177.76,420.33 192.30,417.92 206.84,414.31" fill="none" stroke="#000" stroke-width="1.3" stroke-linejoin="round" stroke-linecap="round" stroke-linejoin="miter"/>
<rect x="93.80" y="440.14" width="3.80" height="3.80" fill="#fff" stroke="#000" stroke-width="1"/>
<rect x="127.56" y="440.14" width="3.80" height="3.80" fill="#fff" stroke="#000" stroke-width="1"/>
<rect x="142.10" y="430.19" width="3.80" height="3.80" fill="#fff" stroke="#000" stroke-width="1"/>
<rect x="156.64" y="426.88" width="3.80" height="3.80" fill="#fff" stroke="#000" stroke-width="1"/>
<rect x="175.86" y="418.44" width="3.80" height="3.80" fill="#fff" stroke="#000" stroke-width="1"/>
<rect x="190.40" y="416.02" width="3.80" height="3.80" fill="#fff" stroke="#000" stroke-width="1"/>
<rect x="204.94" y="412.41" width="3.80" height="3.80" fill="#fff" stroke="#000" stroke-width="1"/>
<path d="M95.70,440.25 V446.25 M93.70,440.25 H97.70 M93.70,446.25 H97.70" stroke="#000" stroke-width="1" fill="none"/>
<path d="M129.46,442.66 V448.66 M127.46,442.66 H131.46 M127.46,448.66 H131.46" stroke="#000" stroke-width="1" fill="none"/>
<path d="M144.00,436.84 V444.84 M142.00,436.84 H146.00 M142.00,444.84 H146.00" stroke="#000" stroke-width="1" fill="none"/>
<path d="M158.54,429.60 V437.60 M156.54,429.60 H160.54 M156.54,437.60 H160.54" stroke="#000" stroke-width="1" fill="none"/>
<path d="M177.76,406.89 V416.89 M175.76,406.89 H179.76 M175.76,416.89 H179.76" stroke="#000" stroke-width="1" fill="none"/>
<path d="M192.30,398.75 V408.75 M190.30,398.75 H194.30 M190.30,408.75 H194.30" stroke="#000" stroke-width="1" fill="none"/>
<path d="M206.84,405.48 V413.48 M204.84,405.48 H208.84 M204.84,413.48 H208.84" stroke="#000" stroke-width="1" fill="none"/>
<polyline points="95.70,443.25 129.46,445.66 144.00,440.84 158.54,433.60 177.76,411.89 192.30,403.75 206.84,409.48" fill="none" stroke="#000" stroke-width="1.3" stroke-linejoin="round" stroke-linecap="round" stroke-linejoin="miter"/>
<path d="M95.70,440.85 L97.90,444.85 L93.50,444.85 Z" fill="#fff" stroke="#000" stroke-width="1"/>
<path d="M129.46,443.26 L131.66,447.26 L127.26,447.26 Z" fill="#fff" stroke="#000" stroke-width="1"/>
<path d="M144.00,438.44 L146.20,442.44 L141.80,442.44 Z" fill="#fff" stroke="#000" stroke-width="1"/>
<path d="M158.54,431.20 L160.74,435.20 L156.34,435.20 Z" fill="#fff" stroke="#000" stroke-width="1"/>
<path d="M177.76,409.49 L179.96,413.49 L175.56,413.49 Z" fill="#fff" stroke="#000" stroke-width="1"/>
<path d="M192.30,401.35 L194.50,405.35 L190.10,405.35 Z" fill="#fff" stroke="#000" stroke-width="1"/>
<path d="M206.84,407.08 L209.04,411.08 L204.64,411.08 Z" fill="#fff" stroke="#000" stroke-width="1"/>
<path d="M463.10,505.60 V568.10 H585.60" fill="none" stroke="#111" stroke-width="1.4"/>
<line x1="460.10" y1="568.10" x2="463.10" y2="568.10" stroke="#111" stroke-width="1.2"/>
<text x="458.40" y="572.10" font-size="10.8" text-anchor="end" class="sm">0</text>
<line x1="460.10" y1="552.48" x2="463.10" y2="552.48" stroke="#111" stroke-width="1.2"/>
<line x1="460.10" y1="536.85" x2="463.10" y2="536.85" stroke="#111" stroke-width="1.2"/>
<text x="458.40" y="540.85" font-size="10.8" text-anchor="end" class="sm">100</text>
<line x1="460.10" y1="521.23" x2="463.10" y2="521.23" stroke="#111" stroke-width="1.2"/>
<line x1="460.10" y1="505.60" x2="463.10" y2="505.60" stroke="#111" stroke-width="1.2"/>
<text x="458.40" y="509.60" font-size="10.8" text-anchor="end" class="sm">200</text>
<line x1="468.20" y1="568.10" x2="468.20" y2="571.10" stroke="#111" stroke-width="1.2"/>
<text x="468.20" y="582.50" font-size="10.8" text-anchor="middle" class="sm">0.1</text>
<line x1="503.15" y1="568.10" x2="503.15" y2="571.10" stroke="#111" stroke-width="1.2"/>
<text x="503.15" y="582.50" font-size="10.8" text-anchor="middle" class="sm">0.5</text>
<line x1="518.20" y1="568.10" x2="518.20" y2="571.10" stroke="#111" stroke-width="1.2"/>
<text x="518.20" y="582.50" font-size="10.8" text-anchor="middle" class="sm">1</text>
<line x1="533.25" y1="568.10" x2="533.25" y2="571.10" stroke="#111" stroke-width="1.2"/>
<text x="533.25" y="582.50" font-size="10.8" text-anchor="middle" class="sm">2</text>
<line x1="553.15" y1="568.10" x2="553.15" y2="571.10" stroke="#111" stroke-width="1.2"/>
<text x="553.15" y="582.50" font-size="10.8" text-anchor="middle" class="sm">5</text>
<line x1="568.20" y1="568.10" x2="568.20" y2="571.10" stroke="#111" stroke-width="1.2"/>
<text x="568.20" y="582.50" font-size="10.8" text-anchor="middle" class="sm">10</text>
<line x1="583.25" y1="568.10" x2="583.25" y2="571.10" stroke="#111" stroke-width="1.2"/>
<text x="583.25" y="582.50" font-size="10.8" text-anchor="middle" class="sm">20</text>
<path d="M468.20,540.10 V546.10 M466.20,540.10 H470.20 M466.20,546.10 H470.20" stroke="#000" stroke-width="1" fill="none"/>
<path d="M503.15,505.85 V517.85 M501.15,505.85 H505.15 M501.15,517.85 H505.15" stroke="#000" stroke-width="1" fill="none"/>
<path d="M518.20,528.91 V542.91 M516.20,528.91 H520.20 M516.20,542.91 H520.20" stroke="#000" stroke-width="1" fill="none"/>
<path d="M533.25,535.54 V547.54 M531.25,535.54 H535.25 M531.25,547.54 H535.25" stroke="#000" stroke-width="1" fill="none"/>
<path d="M553.15,547.85 V555.85 M551.15,547.85 H555.15 M551.15,555.85 H555.15" stroke="#000" stroke-width="1" fill="none"/>
<path d="M568.20,561.73 V565.73 M566.20,561.73 H570.20 M566.20,565.73 H570.20" stroke="#000" stroke-width="1" fill="none"/>
<path d="M583.25,562.35 V566.35 M581.25,562.35 H585.25 M581.25,566.35 H585.25" stroke="#000" stroke-width="1" fill="none"/>
<polyline points="468.20,543.10 503.15,511.85 518.20,535.91 533.25,541.54 553.15,551.85 568.20,563.73 583.25,564.35" fill="none" stroke="#000" stroke-width="1.3" stroke-linejoin="round" stroke-linecap="round" stroke-linejoin="miter"/>
<rect x="466.30" y="541.20" width="3.80" height="3.80" fill="#fff" stroke="#000" stroke-width="1"/>
<rect x="501.25" y="509.95" width="3.80" height="3.80" fill="#fff" stroke="#000" stroke-width="1"/>
<rect x="516.30" y="534.01" width="3.80" height="3.80" fill="#fff" stroke="#000" stroke-width="1"/>
<rect x="531.35" y="539.64" width="3.80" height="3.80" fill="#fff" stroke="#000" stroke-width="1"/>
<rect x="551.25" y="549.95" width="3.80" height="3.80" fill="#fff" stroke="#000" stroke-width="1"/>
<rect x="566.30" y="561.83" width="3.80" height="3.80" fill="#fff" stroke="#000" stroke-width="1"/>
<rect x="581.35" y="562.45" width="3.80" height="3.80" fill="#fff" stroke="#000" stroke-width="1"/>
<path d="M468.20,534.60 V546.60 M466.20,534.60 H470.20 M466.20,546.60 H470.20" stroke="#000" stroke-width="1" fill="none"/>
<path d="M503.15,520.41 V546.41 M501.15,520.41 H505.15 M501.15,546.41 H505.15" stroke="#000" stroke-width="1" fill="none"/>
<path d="M518.20,527.91 V543.91 M516.20,527.91 H520.20 M516.20,543.91 H520.20" stroke="#000" stroke-width="1" fill="none"/>
<path d="M533.25,534.54 V548.54 M531.25,534.54 H535.25 M531.25,548.54 H535.25" stroke="#000" stroke-width="1" fill="none"/>
<path d="M553.15,550.66 V558.66 M551.15,550.66 H555.15 M551.15,558.66 H555.15" stroke="#000" stroke-width="1" fill="none"/>
<path d="M568.20,555.10 V561.10 M566.20,555.10 H570.20 M566.20,561.10 H570.20" stroke="#000" stroke-width="1" fill="none"/>
<path d="M583.25,557.66 V561.66 M581.25,557.66 H585.25 M581.25,561.66 H585.25" stroke="#000" stroke-width="1" fill="none"/>
<polyline points="468.20,540.60 503.15,533.41 518.20,535.91 533.25,541.54 553.15,554.66 568.20,558.10 583.25,559.66" fill="none" stroke="#000" stroke-width="1.3" stroke-linejoin="round" stroke-linecap="round" stroke-linejoin="miter"/>
<rect x="466.30" y="538.70" width="3.80" height="3.80" fill="#000"/>
<rect x="501.25" y="531.51" width="3.80" height="3.80" fill="#000"/>
<rect x="516.30" y="534.01" width="3.80" height="3.80" fill="#000"/>
<rect x="531.35" y="539.64" width="3.80" height="3.80" fill="#000"/>
<rect x="551.25" y="552.76" width="3.80" height="3.80" fill="#000"/>
<rect x="566.30" y="556.20" width="3.80" height="3.80" fill="#000"/>
<rect x="581.35" y="557.76" width="3.80" height="3.80" fill="#000"/>
<path d="M468.20,553.48 V561.48 M466.20,553.48 H470.20 M466.20,561.48 H470.20" stroke="#000" stroke-width="1" fill="none"/>
<path d="M503.15,525.91 V545.91 M501.15,525.91 H505.15 M501.15,545.91 H505.15" stroke="#000" stroke-width="1" fill="none"/>
<path d="M518.20,538.04 V550.04 M516.20,538.04 H520.20 M516.20,550.04 H520.20" stroke="#000" stroke-width="1" fill="none"/>
<path d="M533.25,543.26 V553.26 M531.25,543.26 H535.25 M531.25,553.26 H535.25" stroke="#000" stroke-width="1" fill="none"/>
<path d="M553.15,551.66 V557.66 M551.15,551.66 H555.15 M551.15,557.66 H555.15" stroke="#000" stroke-width="1" fill="none"/>
<path d="M568.20,558.29 V562.29 M566.20,558.29 H570.20 M566.20,562.29 H570.20" stroke="#000" stroke-width="1" fill="none"/>
<path d="M583.25,559.23 V563.23 M581.25,559.23 H585.25 M581.25,563.23 H585.25" stroke="#000" stroke-width="1" fill="none"/>
<polyline points="468.20,557.48 503.15,535.91 518.20,544.04 533.25,548.26 553.15,554.66 568.20,560.29 583.25,561.23" fill="none" stroke="#000" stroke-width="1.3" stroke-linejoin="round" stroke-linecap="round" stroke-linejoin="miter"/>
<circle cx="468.20" cy="557.48" r="1.90" fill="#fff" stroke="#000" stroke-width="1"/>
<circle cx="503.15" cy="535.91" r="1.90" fill="#fff" stroke="#000" stroke-width="1"/>
<circle cx="518.20" cy="544.04" r="1.90" fill="#fff" stroke="#000" stroke-width="1"/>
<circle cx="533.25" cy="548.26" r="1.90" fill="#fff" stroke="#000" stroke-width="1"/>
<circle cx="553.15" cy="554.66" r="1.90" fill="#fff" stroke="#000" stroke-width="1"/>
<circle cx="568.20" cy="560.29" r="1.90" fill="#fff" stroke="#000" stroke-width="1"/>
<circle cx="583.25" cy="561.23" r="1.90" fill="#fff" stroke="#000" stroke-width="1"/>
<path d="M468.20,541.16 V553.16 M466.20,541.16 H470.20 M466.20,553.16 H470.20" stroke="#000" stroke-width="1" fill="none"/>
<path d="M503.15,539.91 V551.91 M501.15,539.91 H505.15 M501.15,551.91 H505.15" stroke="#000" stroke-width="1" fill="none"/>
<path d="M518.20,546.85 V556.85 M516.20,546.85 H520.20 M516.20,556.85 H520.20" stroke="#000" stroke-width="1" fill="none"/>
<path d="M533.25,551.60 V559.60 M531.25,551.60 H535.25 M531.25,559.60 H535.25" stroke="#000" stroke-width="1" fill="none"/>
<path d="M553.15,553.85 V559.85 M551.15,553.85 H555.15 M551.15,559.85 H555.15" stroke="#000" stroke-width="1" fill="none"/>
<path d="M568.20,559.85 V563.85 M566.20,559.85 H570.20 M566.20,563.85 H570.20" stroke="#000" stroke-width="1" fill="none"/>
<path d="M583.25,560.48 V564.48 M581.25,560.48 H585.25 M581.25,564.48 H585.25" stroke="#000" stroke-width="1" fill="none"/>
<polyline points="468.20,547.16 503.15,545.91 518.20,551.85 533.25,555.60 553.15,556.85 568.20,561.85 583.25,562.48" fill="none" stroke="#000" stroke-width="1.3" stroke-linejoin="round" stroke-linecap="round" stroke-linejoin="miter"/>
<circle cx="468.20" cy="547.16" r="1.90" fill="#000"/>
<circle cx="503.15" cy="545.91" r="1.90" fill="#000"/>
<circle cx="518.20" cy="551.85" r="1.90" fill="#000"/>
<circle cx="533.25" cy="555.60" r="1.90" fill="#000"/>
<circle cx="553.15" cy="556.85" r="1.90" fill="#000"/>
<circle cx="568.20" cy="561.85" r="1.90" fill="#000"/>
<circle cx="583.25" cy="562.48" r="1.90" fill="#000"/>
<path d="M468.20,542.73 V554.73 M466.20,542.73 H470.20 M466.20,554.73 H470.20" stroke="#000" stroke-width="1" fill="none"/>
<path d="M503.15,545.60 V555.60 M501.15,545.60 H505.15 M501.15,555.60 H505.15" stroke="#000" stroke-width="1" fill="none"/>
<path d="M518.20,553.48 V561.48 M516.20,553.48 H520.20 M516.20,561.48 H520.20" stroke="#000" stroke-width="1" fill="none"/>
<path d="M533.25,555.41 V561.41 M531.25,555.41 H535.25 M531.25,561.41 H535.25" stroke="#000" stroke-width="1" fill="none"/>
<path d="M553.15,560.01 V564.01 M551.15,560.01 H555.15 M551.15,564.01 H555.15" stroke="#000" stroke-width="1" fill="none"/>
<path d="M568.20,561.73 V565.73 M566.20,561.73 H570.20 M566.20,565.73 H570.20" stroke="#000" stroke-width="1" fill="none"/>
<path d="M583.25,562.66 V566.66 M581.25,562.66 H585.25 M581.25,566.66 H585.25" stroke="#000" stroke-width="1" fill="none"/>
<polyline points="468.20,548.73 503.15,550.60 518.20,557.48 533.25,558.41 553.15,562.01 568.20,563.73 583.25,564.66" fill="none" stroke="#000" stroke-width="1.3" stroke-linejoin="round" stroke-linecap="round" stroke-linejoin="miter"/>
<circle cx="468.20" cy="548.73" r="1.90" fill="#fff" stroke="#000" stroke-width="1"/>
<circle cx="503.15" cy="550.60" r="1.90" fill="#fff" stroke="#000" stroke-width="1"/>
<circle cx="518.20" cy="557.48" r="1.90" fill="#fff" stroke="#000" stroke-width="1"/>
<circle cx="533.25" cy="558.41" r="1.90" fill="#fff" stroke="#000" stroke-width="1"/>
<circle cx="553.15" cy="562.01" r="1.90" fill="#fff" stroke="#000" stroke-width="1"/>
<circle cx="568.20" cy="563.73" r="1.90" fill="#fff" stroke="#000" stroke-width="1"/>
<circle cx="583.25" cy="564.66" r="1.90" fill="#fff" stroke="#000" stroke-width="1"/>
</g></svg>
</body></html>
